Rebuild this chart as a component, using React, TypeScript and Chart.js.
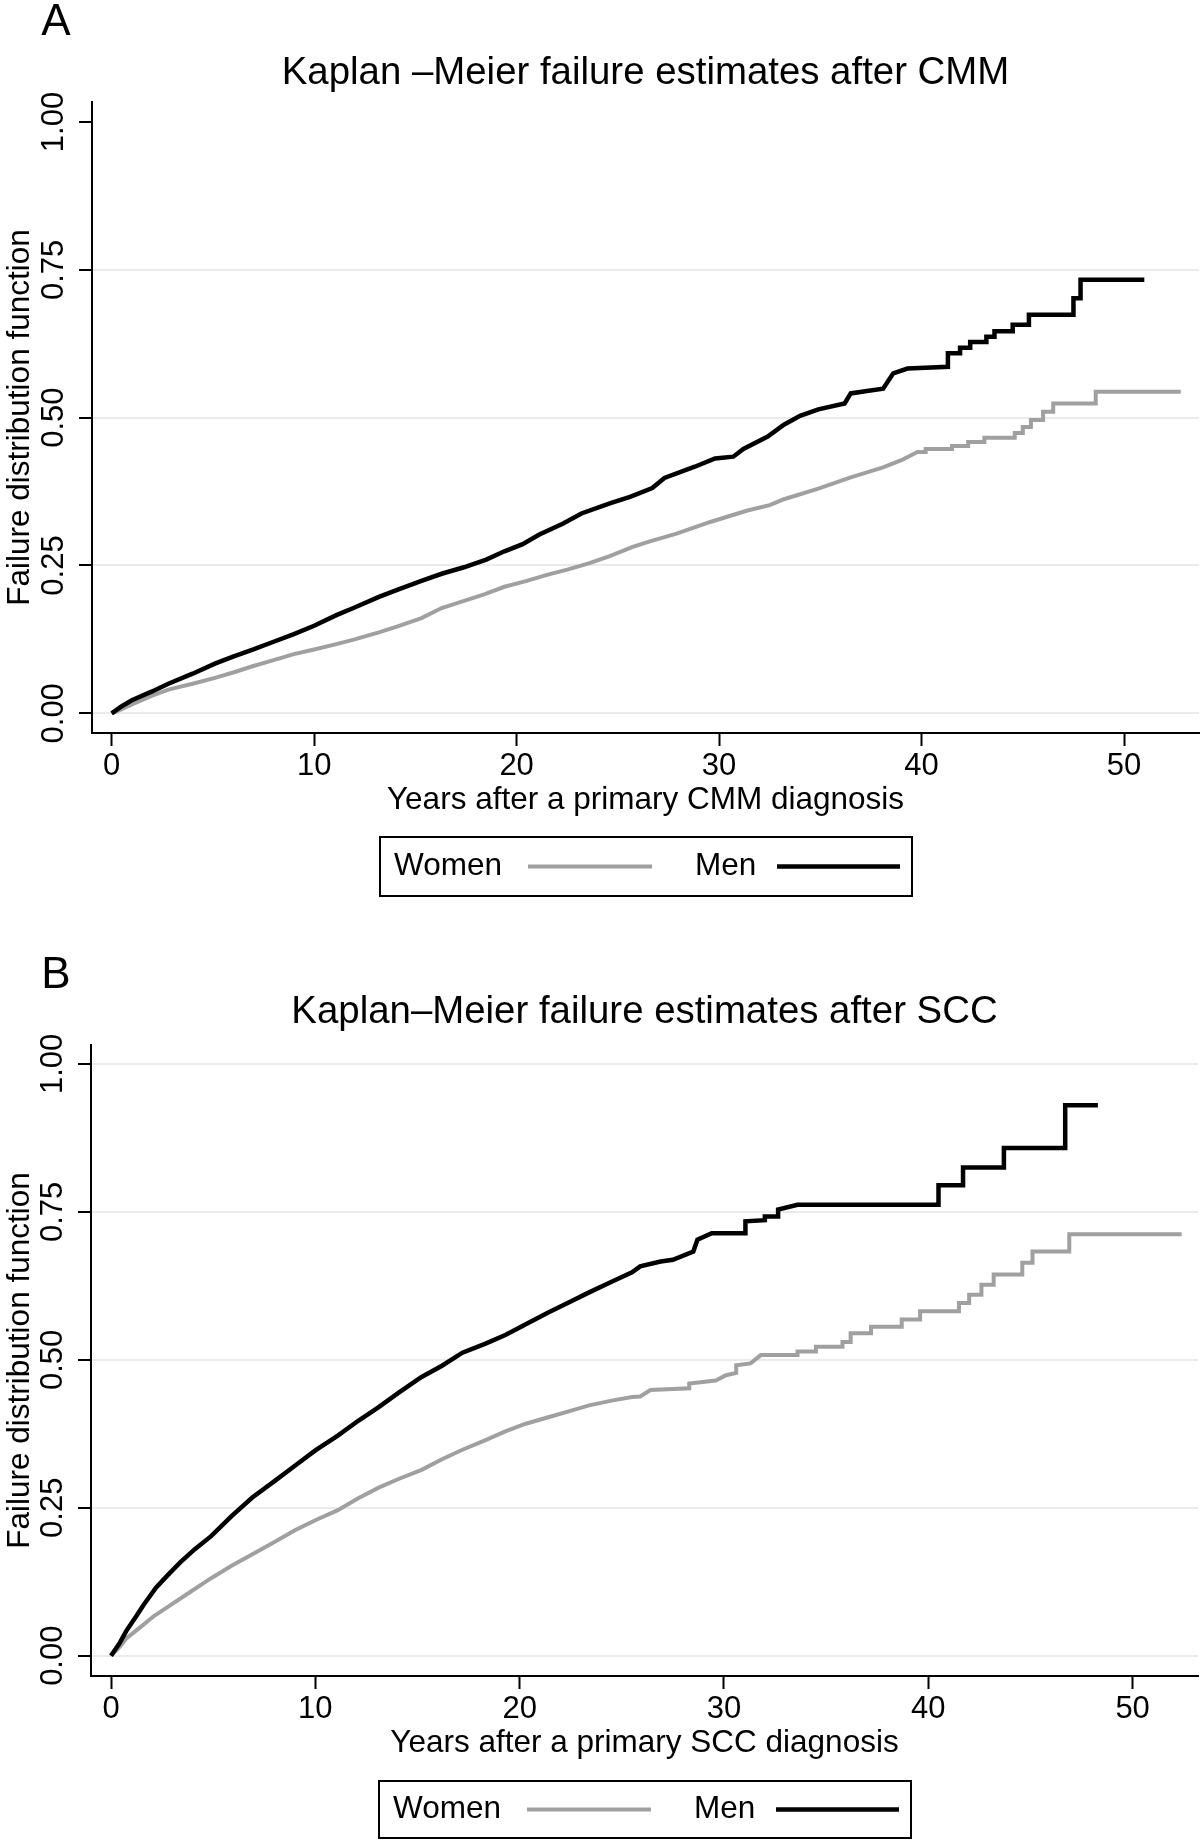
import React, { useEffect, useRef } from "react";
import { Chart, registerables } from "chart.js";

Chart.register(...registerables);

const FONT = '"Liberation Sans", Arial, Helvetica, sans-serif';

// ---- axis ticks ----
const xTickValues = [0, 10, 20, 30, 40, 50];
const yTickValues = [0, 0.25, 0.5, 0.75, 1];

// ---- series labels ----
const seriesLabels = ["Women", "Men"];

// ---- Panel A: CMM ----
const cmmWomenYears = [0, 0.5, 1, 2, 2.8, 4, 5.1, 6, 7, 8, 9, 10, 11.1, 12, 13.2, 14.2, 15.3, 16.3, 17.4, 18.4, 19.4, 20.5, 21.5, 22.5, 23.6, 24.6, 25.7, 26.5, 27.9, 29.6, 31.4, 32.5, 33.2, 34.9, 36.5, 38.1, 39.0, 39.8, 40.2, 40.2, 41.5, 41.5, 42.3, 42.3, 43.1, 43.1, 44.6, 44.6, 45.0, 45.0, 45.4, 45.4, 46.0, 46.0, 46.5, 46.5, 48.6, 48.6, 52.8];
const cmmWomenFailure = [0, 0.007, 0.015, 0.03, 0.04, 0.05, 0.06, 0.069, 0.08, 0.09, 0.1, 0.108, 0.117, 0.125, 0.137, 0.148, 0.161, 0.178, 0.19, 0.201, 0.214, 0.224, 0.234, 0.243, 0.254, 0.266, 0.281, 0.29, 0.304, 0.324, 0.343, 0.352, 0.362, 0.38, 0.399, 0.416, 0.428, 0.442, 0.442, 0.447, 0.447, 0.452, 0.452, 0.459, 0.459, 0.466, 0.466, 0.474, 0.474, 0.484, 0.484, 0.496, 0.496, 0.51, 0.51, 0.524, 0.524, 0.544, 0.544];
const cmmMenYears = [0, 0.5, 1, 2, 2.8, 4, 5.1, 6, 7, 8, 9, 10, 11.1, 12, 13.2, 14.2, 15.3, 16.3, 17.4, 18.5, 19.4, 20.3, 21.1, 22.3, 23.2, 24.6, 25.6, 26.7, 27.3, 28.8, 29.8, 30.7, 31.2, 32.4, 33.2, 34.0, 34.9, 36.2, 36.5, 37.3, 38.1, 38.6, 39.3, 41.3, 41.3, 41.9, 41.9, 42.4, 42.4, 43.2, 43.2, 43.6, 43.6, 44.5, 44.5, 45.3, 45.3, 47.5, 47.5, 47.85, 47.85, 51.0];
const cmmMenFailure = [0, 0.012, 0.022, 0.037, 0.05, 0.067, 0.084, 0.096, 0.108, 0.121, 0.134, 0.148, 0.166, 0.179, 0.197, 0.21, 0.224, 0.236, 0.247, 0.26, 0.274, 0.286, 0.302, 0.321, 0.338, 0.355, 0.366, 0.381, 0.398, 0.417, 0.431, 0.434, 0.447, 0.468, 0.488, 0.503, 0.514, 0.524, 0.541, 0.545, 0.549, 0.575, 0.583, 0.586, 0.609, 0.609, 0.618, 0.618, 0.628, 0.628, 0.637, 0.637, 0.646, 0.646, 0.657, 0.657, 0.674, 0.674, 0.702, 0.702, 0.733, 0.733];

// ---- Panel B: SCC ----
const sccWomenYears = [0, 0.4, 0.75, 1.5, 2.1, 2.8, 3.8, 4.9, 5.9, 6.9, 8, 9, 10, 11.1, 12.1, 13.1, 14.1, 15.2, 16.2, 17.2, 18.3, 19.3, 20.3, 21.4, 22.4, 23.4, 24.5, 25.5, 25.9, 26.4, 28.3, 28.3, 29.6, 30.1, 30.6, 30.6, 31.3, 31.8, 33.6, 33.6, 34.5, 34.5, 35.8, 35.8, 36.2, 36.2, 37.2, 37.2, 38.7, 38.7, 39.6, 39.6, 41.5, 41.5, 42.0, 42.0, 42.6, 42.6, 43.2, 43.2, 44.6, 44.6, 45.1, 45.1, 46.9, 46.9, 52.4];
const sccWomenFailure = [0, 0.014, 0.029, 0.05, 0.067, 0.083, 0.106, 0.131, 0.152, 0.171, 0.192, 0.212, 0.229, 0.246, 0.266, 0.284, 0.299, 0.314, 0.332, 0.348, 0.364, 0.379, 0.392, 0.403, 0.413, 0.423, 0.431, 0.437, 0.438, 0.449, 0.452, 0.46, 0.465, 0.474, 0.478, 0.491, 0.494, 0.508, 0.508, 0.514, 0.514, 0.522, 0.522, 0.53, 0.53, 0.545, 0.545, 0.556, 0.556, 0.568, 0.568, 0.582, 0.582, 0.596, 0.596, 0.61, 0.61, 0.627, 0.627, 0.644, 0.644, 0.664, 0.664, 0.683, 0.683, 0.712, 0.712];
const sccMenYears = [0, 0.4, 0.75, 1.2, 1.6, 2.2, 2.8, 3.4, 4.1, 4.9, 5.9, 6.9, 8, 9, 10, 11.1, 12.1, 13.1, 14.1, 15.2, 16.2, 17.2, 18.3, 19.3, 20.3, 21.4, 22.4, 23.4, 24.5, 25.5, 25.9, 26.9, 27.5, 28.5, 28.7, 29.4, 31.05, 31.05, 32.0, 32.0, 32.65, 32.65, 33.6, 40.5, 40.5, 41.7, 41.7, 43.7, 43.7, 46.7, 46.7, 48.3];
const sccMenFailure = [0, 0.02, 0.042, 0.065, 0.086, 0.115, 0.137, 0.158, 0.18, 0.202, 0.236, 0.267, 0.295, 0.321, 0.347, 0.372, 0.397, 0.42, 0.445, 0.471, 0.49, 0.512, 0.527, 0.542, 0.56, 0.58, 0.597, 0.614, 0.632, 0.648, 0.658, 0.666, 0.669, 0.683, 0.703, 0.714, 0.714, 0.734, 0.736, 0.742, 0.742, 0.754, 0.762, 0.762, 0.795, 0.795, 0.825, 0.825, 0.858, 0.858, 0.93, 0.93];

const GRAY = "#a0a0a0";
const GRID = "#ebebeb";
const CANVAS_W = 1200;
const CANVAS_H = 920;
const X_SCALE_HEIGHT = 100;

type PanelSpec = {
  letter: string;
  title: string;
  xTitle: string;
  womenYears: number[];
  womenFailure: number[];
  menYears: number[];
  menFailure: number[];
  xMin: number;
  xMax: number;
  yMin: number;
  yMax: number;
  gridAtOne: boolean;
  plotTop: number;
  plotBottom: number;
  yAxisWidth: number;
  rightPad: number;
  titleCenter: number;
  letterY: number;
  legendTop: number;
  legendHeight: number;
};

const panelA: PanelSpec = {
  letter: "A",
  title: "Kaplan \u2013Meier failure estimates after CMM",
  xTitle: "Years after a primary CMM diagnosis",
  womenYears: cmmWomenYears,
  womenFailure: cmmWomenFailure,
  menYears: cmmMenYears,
  menFailure: cmmMenFailure,
  xMin: -0.97,
  xMax: 53.7,
  yMin: -0.0333,
  yMax: 1.0338,
  gridAtOne: false,
  plotTop: 102,
  plotBottom: 733,
  yAxisWidth: 92,
  rightPad: 1,
  titleCenter: 73,
  letterY: 23,
  legendTop: 837,
  legendHeight: 59,
};

const panelB: PanelSpec = {
  letter: "B",
  title: "Kaplan\u2013Meier failure estimates after SCC",
  xTitle: "Years after a primary SCC diagnosis",
  womenYears: sccWomenYears,
  womenFailure: sccWomenFailure,
  menYears: sccMenYears,
  menFailure: sccMenFailure,
  xMin: -0.98,
  xMax: 53.2,
  yMin: -0.0343,
  yMax: 1.032,
  gridAtOne: true,
  plotTop: 125,
  plotBottom: 756,
  yAxisWidth: 91,
  rightPad: 2,
  titleCenter: 92,
  letterY: 56,
  legendTop: 861,
  legendHeight: 57,
};

// legend item layout relative to the legend box's left edge
const legendLayout = [
  { textX: 14, lineX1: 148, lineX2: 272 },
  { textX: 315, lineX1: 397, lineX2: 520 },
];

const decorPlugin = {
  id: "panelDecor",
  afterDraw(chart: any, _args: any, opts: any) {
    const ctx = chart.ctx as CanvasRenderingContext2D;
    ctx.save();
    ctx.fillStyle = "#000";
    ctx.font = `44px ${FONT}`;
    ctx.textAlign = "center";
    ctx.textBaseline = "middle";
    ctx.fillText(opts.letter, 56, opts.letterY);

    const area = chart.chartArea;
    const boxW = 532;
    const left = Math.round((area.left + area.right) / 2 - boxW / 2);
    const top = opts.legendTop;
    const h = opts.legendHeight;
    ctx.lineWidth = 2;
    ctx.strokeStyle = "#000";
    ctx.strokeRect(left, top, boxW, h);
    const cy = top + h / 2;
    ctx.font = `31.5px ${FONT}`;
    ctx.textAlign = "left";
    chart.data.datasets.forEach((ds: any, i: number) => {
      const it = legendLayout[i];
      ctx.fillStyle = "#000";
      ctx.fillText(ds.label, left + it.textX, cy);
      ctx.beginPath();
      ctx.strokeStyle = ds.borderColor;
      ctx.lineWidth = ds.borderWidth;
      ctx.moveTo(left + it.lineX1, cy);
      ctx.lineTo(left + it.lineX2, cy);
      ctx.stroke();
    });
    ctx.restore();
  },
};

function Panel({ spec }: { spec: PanelSpec }) {
  const ref = useRef<HTMLCanvasElement | null>(null);
  useEffect(() => {
    if (!ref.current) return;
    const lh = 38.4 * 1.2;
    const chart = new Chart(ref.current, {
      type: "line",
      data: {
        datasets: [
          {
            label: seriesLabels[0],
            data: spec.womenYears.map((t, i) => ({ x: t, y: spec.womenFailure[i] })),
            borderColor: GRAY,
            borderWidth: 4,
            pointRadius: 0,
            pointHoverRadius: 0,
            tension: 0,
            fill: false,
            order: 1,
          },
          {
            label: seriesLabels[1],
            data: spec.menYears.map((t, i) => ({ x: t, y: spec.menFailure[i] })),
            borderColor: "#000",
            borderWidth: 4.5,
            pointRadius: 0,
            pointHoverRadius: 0,
            tension: 0,
            fill: false,
            order: 0,
          },
        ],
      },
      options: {
        responsive: false,
        animation: false,
        devicePixelRatio: 1,
        events: [],
        layout: {
          padding: {
            left: 0,
            right: spec.rightPad,
            top: 0,
            bottom: CANVAS_H - spec.plotBottom - X_SCALE_HEIGHT,
          },
        },
        plugins: {
          legend: { display: false },
          tooltip: { enabled: false },
          title: {
            display: true,
            text: spec.title,
            fullSize: false,
            position: "top",
            color: "#000",
            font: { family: FONT, size: 38.4, weight: "normal", lineHeight: 1.2 },
            padding: {
              top: spec.titleCenter - lh / 2,
              bottom: spec.plotTop - spec.titleCenter - lh / 2,
            },
          },
          panelDecor: {
            letter: spec.letter,
            letterY: spec.letterY,
            legendTop: spec.legendTop,
            legendHeight: spec.legendHeight,
          },
        } as any,
        scales: {
          x: {
            type: "linear",
            position: "bottom",
            min: spec.xMin,
            max: spec.xMax,
            afterBuildTicks: (s: any) => {
              s.ticks = xTickValues.map((v) => ({ value: v }));
            },
            afterFit: (s: any) => {
              s.height = X_SCALE_HEIGHT;
            },
            ticks: {
              autoSkip: false,
              minRotation: 0,
              maxRotation: 0,
              padding: 2,
              color: "#000",
              font: { family: FONT, size: 31 },
              callback: (v: any) => String(v),
            },
            grid: {
              drawOnChartArea: false,
              drawTicks: true,
              tickLength: 13,
              tickColor: "#000",
              tickWidth: 2,
            },
            border: { display: true, color: "#000", width: 2 },
            title: {
              display: true,
              text: spec.xTitle,
              color: "#000",
              font: { family: FONT, size: 31.5, lineHeight: 1.2 },
              padding: { top: 0, bottom: 14 },
            },
          },
          y: {
            type: "linear",
            position: "left",
            min: spec.yMin,
            max: spec.yMax,
            afterBuildTicks: (s: any) => {
              s.ticks = yTickValues.map((v) => ({ value: v }));
            },
            afterFit: (s: any) => {
              s.width = spec.yAxisWidth;
            },
            ticks: {
              autoSkip: false,
              minRotation: 90,
              maxRotation: 90,
              crossAlign: "center",
              padding: -6,
              color: "#000",
              font: { family: FONT, size: 31 },
              callback: (v: any) => Number(v).toFixed(2),
            },
            grid: {
              color: (c: any) =>
                c.tick && c.tick.value === 1 && !spec.gridAtOne ? "rgba(0,0,0,0)" : GRID,
              lineWidth: 2,
              drawTicks: true,
              tickLength: 13,
              tickColor: "#000",
              tickWidth: 2,
            },
            border: { display: true, color: "#000", width: 2 },
            title: {
              display: true,
              text: "Failure distribution function",
              color: "#000",
              font: { family: FONT, size: 31.5, lineHeight: 1.2 },
              padding: { top: 1, bottom: 0 },
            },
          },
        },
      } as any,
      plugins: [decorPlugin as any],
    });
    return () => chart.destroy();
  }, [spec]);
  return (
    <div style={{ width: CANVAS_W, height: CANVAS_H }}>
      <canvas
        ref={ref}
        width={CANVAS_W}
        height={CANVAS_H}
        style={{ display: "block", width: CANVAS_W, height: CANVAS_H }}
      />
    </div>
  );
}

export default function App() {
  return (
    <div
      style={{
        position: "absolute",
        left: 0,
        top: 0,
        width: CANVAS_W,
        height: CANVAS_H * 2,
        background: "#fff",
      }}
    >
      <Panel spec={panelA} />
      <Panel spec={panelB} />
    </div>
  );
}
